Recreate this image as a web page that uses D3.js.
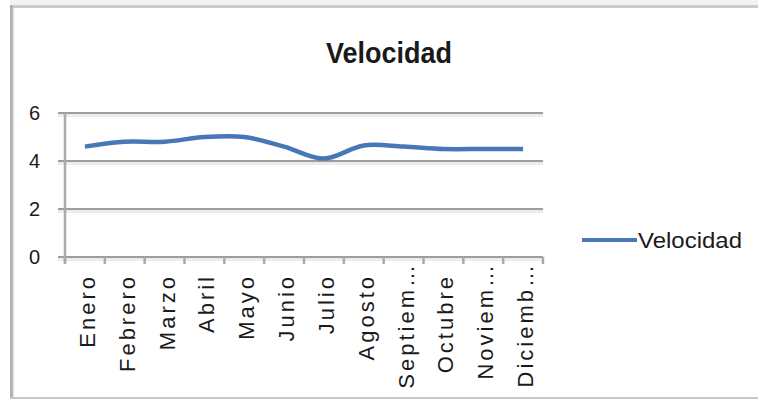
<!DOCTYPE html>
<html>
<head>
<meta charset="utf-8">
<script src="https://cdn.jsdelivr.net/npm/d3@7"></script>
<style>
  html, body { margin: 0; padding: 0; background: #ffffff; }
  svg { display: block; }
  text { font-family: "Liberation Sans", Arial, sans-serif; fill: #1a1a1a; }
</style>
</head>
<body>
<svg id="chart" width="758" height="400"></svg>
<script>
// ---- data ----
const categories = ["Enero", "Febrero", "Marzo", "Abril", "Mayo", "Junio", "Julio", "Agosto", "Septiembre", "Octubre", "Noviembre", "Diciembre"];
const categoryLabels = ["Enero", "Febrero", "Marzo", "Abril", "Mayo", "Junio", "Julio", "Agosto", "Septiem…", "Octubre", "Noviem…", "Diciemb…"];
const velocidad = [4.6, 4.8, 4.8, 5.0, 5.0, 4.6, 4.1, 4.65, 4.6, 4.5, 4.5, 4.5];
const yTicks = [0, 2, 4, 6];
const seriesName = "Velocidad";
const chartTitle = "Velocidad";

// ---- layout ----
const W = 758, H = 400;
const plot = { left: 65, right: 543, top: 113, bottom: 257 };
const blue = "#4877b7";

const svg = d3.select("#chart");

// outer frame (Excel chart area)
svg.append("rect").attr("x", 10).attr("y", 0).attr("width", W - 10).attr("height", 5).attr("fill", "#f2f2f2");
svg.append("line").attr("x1", 10).attr("x2", W).attr("y1", 6.5).attr("y2", 6.5).attr("stroke", "#cccccc").attr("stroke-width", 3);
svg.append("line").attr("x1", 11.5).attr("x2", 11.5).attr("y1", 5).attr("y2", 398).attr("stroke", "#b0b0b0").attr("stroke-width", 3);
svg.append("line").attr("x1", 13.5).attr("x2", 13.5).attr("y1", 8).attr("y2", 397).attr("stroke", "#e4e4e4").attr("stroke-width", 1.5);
svg.append("line").attr("x1", 10).attr("x2", W).attr("y1", 398).attr("y2", 398).attr("stroke", "#c8c8c8").attr("stroke-width", 2);

// scales
const x = d3.scaleBand().domain(categories).range([plot.left, plot.right]).padding(0);
const y = d3.scaleLinear().domain([0, 6]).range([plot.bottom, plot.top]);

// title
svg.append("text")
  .attr("x", 389).attr("y", 63)
  .attr("text-anchor", "middle")
  .attr("font-size", 29).attr("font-weight", "bold")
  .attr("textLength", 126).attr("lengthAdjust", "spacingAndGlyphs")
  .text(chartTitle);

// gridlines (with light shadow beneath)
const grid = svg.append("g");
grid.selectAll("line.shadow").data(yTicks).join("line")
  .attr("class", "shadow")
  .attr("x1", plot.left - 7).attr("x2", plot.right)
  .attr("y1", d => y(d) + 2.5).attr("y2", d => y(d) + 2.5)
  .attr("stroke", "#ececec").attr("stroke-width", 3);
grid.selectAll("line.g").data(yTicks).join("line")
  .attr("class", "g")
  .attr("x1", plot.left - 7).attr("x2", plot.right)
  .attr("y1", d => y(d)).attr("y2", d => y(d))
  .attr("stroke", "#9d9d9d").attr("stroke-width", 2.2);

// y tick labels
svg.append("g").selectAll("text").data(yTicks).join("text")
  .attr("x", 40).attr("y", d => y(d) + 7)
  .attr("text-anchor", "end")
  .attr("font-size", 20)
  .text(d => d);

// y axis line
svg.append("line")
  .attr("x1", plot.left).attr("x2", plot.left)
  .attr("y1", plot.top).attr("y2", plot.bottom + 6)
  .attr("stroke", "#aaaaaa").attr("stroke-width", 2.5);

// x axis ticks at category boundaries
const boundaries = categories.map(c => x(c)).concat([x.range()[1]]);
svg.append("g").selectAll("line").data(boundaries).join("line")
  .attr("x1", d => d).attr("x2", d => d)
  .attr("y1", plot.bottom).attr("y2", plot.bottom + 7)
  .attr("stroke", "#aaaaaa").attr("stroke-width", 2.5);

// x category labels (rotated)
svg.append("g").selectAll("text").data(categories).join("text")
  .attr("transform", d => `translate(${x(d) + x.bandwidth() / 2},${categoryLabels[categories.indexOf(d)].endsWith("…") ? 262 : 274}) rotate(-90)`)
  .attr("y", 10)
  .attr("text-anchor", "end")
  .attr("font-size", 22)
  .attr("letter-spacing", 3)
  .text((d, i) => categoryLabels[i]);

// series line
const line = d3.line()
  .x((d, i) => x(categories[i]) + x.bandwidth() / 2)
  .y(d => y(d))
  .curve(d3.curveCatmullRom.alpha(0.5));
svg.append("path")
  .datum(velocidad)
  .attr("d", line)
  .attr("fill", "none")
  .attr("stroke", blue)
  .attr("stroke-width", 4.5)
  .attr("stroke-linecap", "butt");

// legend
svg.append("line")
  .attr("x1", 582).attr("x2", 637).attr("y1", 240).attr("y2", 240)
  .attr("stroke", blue).attr("stroke-width", 4);
svg.append("text")
  .attr("x", 638).attr("y", 248)
  .attr("font-size", 22)
  .attr("textLength", 104).attr("lengthAdjust", "spacingAndGlyphs")
  .text(seriesName);
</script>
</body>
</html>
